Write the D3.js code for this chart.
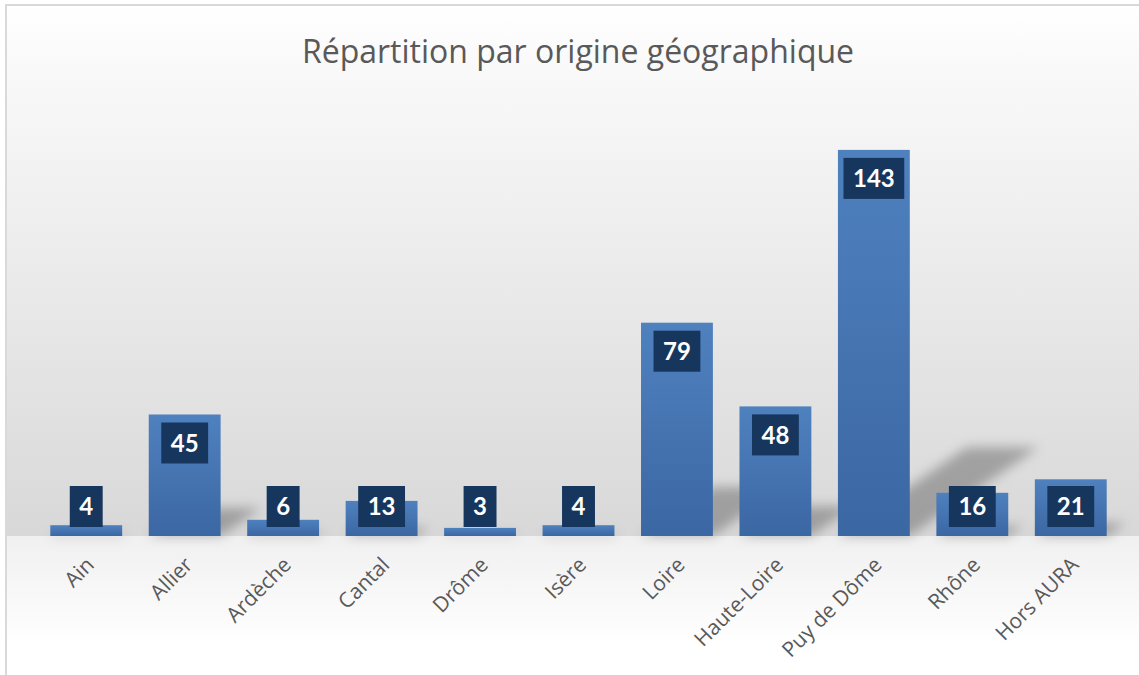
<!DOCTYPE html>
<html>
<head>
<meta charset="utf-8">
<script src="https://cdn.jsdelivr.net/npm/d3@7"></script>
<style>
  html, body { margin: 0; padding: 0; background: #fff; }
  svg { display: block; }
</style>
</head>
<body>
<div id="chart"></div>
<script>
// data
const categories = ["Ain", "Allier", "Ardèche", "Cantal", "Drôme", "Isère", "Loire", "Haute-Loire", "Puy de Dôme", "Rhône", "Hors AURA"];
const counts = [4, 45, 6, 13, 3, 4, 79, 48, 143, 16, 21];
const titleText = "Répartition par origine géographique";

const W = 1139, H = 675;
const baseY = 536;

const svg = d3.select("#chart").append("svg")
    .attr("width", W)
    .attr("height", H);

const defs = svg.append("defs");

// wall gradient (white at top to light grey near the floor)
const wall = defs.append("linearGradient")
    .attr("id", "wall").attr("x1", 0).attr("y1", 0).attr("x2", 0).attr("y2", 1);
wall.append("stop").attr("offset", "0%").attr("stop-color", "#ffffff");
wall.append("stop").attr("offset", "10%").attr("stop-color", "#fafafa");
wall.append("stop").attr("offset", "100%").attr("stop-color", "#d8d8d8");

const floor = defs.append("linearGradient")
    .attr("id", "floor").attr("x1", 0).attr("y1", 0).attr("x2", 0).attr("y2", 1);
floor.append("stop").attr("offset", "0%").attr("stop-color", "#f0f0f0");
floor.append("stop").attr("offset", "100%").attr("stop-color", "#ffffff");

const barGrad = defs.append("linearGradient")
    .attr("id", "barGrad").attr("x1", 0).attr("y1", 0).attr("x2", 0).attr("y2", 1);
barGrad.append("stop").attr("offset", "0%").attr("stop-color", "#4f81bf");
barGrad.append("stop").attr("offset", "100%").attr("stop-color", "#3b67a3");

defs.append("filter").attr("id", "blur")
    .attr("x", "-50%").attr("y", "-50%").attr("width", "200%").attr("height", "200%")
    .append("feGaussianBlur").attr("stdDeviation", 6);

// background
svg.append("rect")
    .attr("x", 6).attr("y", 5).attr("width", W).attr("height", baseY - 5)
    .attr("fill", "url(#wall)");
svg.append("rect")
    .attr("x", 6).attr("y", baseY).attr("width", W).attr("height", 110)
    .attr("fill", "url(#floor)");
svg.append("rect")
    .attr("x", 6).attr("y", 5).attr("width", W + 20).attr("height", H + 20)
    .attr("fill", "none")
    .attr("stroke", "#d9d9d9")
    .attr("stroke-width", 2);

// title
svg.append("text")
    .attr("x", 578)
    .attr("y", 63)
    .attr("text-anchor", "middle")
    .attr("font-family", "'Open Sans', sans-serif")
    .attr("font-size", 32)
    .attr("fill", "#595959")
    .text(titleText);

const x = d3.scaleBand()
    .domain(categories)
    .range([37, 1120])
    .paddingInner(0.27)
    .paddingOuter(0.135);

const y = d3.scaleLinear()
    .domain([0, 160])
    .range([baseY, 104]);

const data = categories.map((c, i) => ({ name: c, value: counts[i] }));

// perspective shadows behind the bars
svg.append("g")
    .attr("filter", "url(#blur)")
    .selectAll("path")
    .data(data)
    .enter()
    .append("path")
    .attr("d", d => {
        const x0 = x(d.name), x1 = x0 + x.bandwidth();
        const sh = (baseY - y(d.value)) * 0.23;
        const dx = sh * 1.45;
        return `M${x0},${baseY}L${x1},${baseY}L${x1 + dx},${baseY - sh}L${x0 + dx},${baseY - sh}Z`;
    })
    .attr("fill", "#000")
    .attr("fill-opacity", 0.27);

// bars
svg.append("g")
    .selectAll("rect")
    .data(data)
    .enter()
    .append("rect")
    .attr("x", d => x(d.name))
    .attr("y", d => y(d.value))
    .attr("width", x.bandwidth())
    .attr("height", d => baseY - y(d.value))
    .attr("fill", "url(#barGrad)");

// value labels in dark boxes
const labels = svg.append("g")
    .selectAll("g")
    .data(data)
    .enter()
    .append("g")
    .attr("transform", d => {
        const top = Math.min(y(d.value) + 8, baseY - 50);
        return `translate(${x(d.name) + x.bandwidth() / 2},${top})`;
    });

labels.append("rect").attr("class", "box")
    .attr("y", 0)
    .attr("height", 41)
    .attr("fill", "#17365d");

labels.append("text")
    .attr("y", 20.5)
    .attr("dy", "0.36em")
    .attr("text-anchor", "middle")
    .attr("font-family", "Lato, 'Open Sans', sans-serif")
    .attr("font-weight", "bold")
    .attr("font-size", 24)
    .attr("fill", "#ffffff")
    .text(d => d.value);

labels.each(function() {
    const g = d3.select(this);
    const w = g.select("text").node().getComputedTextLength() + 19;
    g.select("rect.box").attr("x", -w / 2).attr("width", w);
});

// category axis
const axis = svg.append("g")
    .attr("transform", `translate(0,${baseY})`)
    .call(d3.axisBottom(x).tickSize(0).tickPadding(0));

axis.select(".domain").remove();

axis.selectAll(".tick text")
    .attr("font-family", "'Open Sans', sans-serif")
    .attr("font-size", 21)
    .attr("fill", "#595959")
    .attr("text-anchor", "end")
    .attr("dy", "0.35em")
    .attr("transform", "translate(4,25) rotate(-45)");
</script>
</body>
</html>
